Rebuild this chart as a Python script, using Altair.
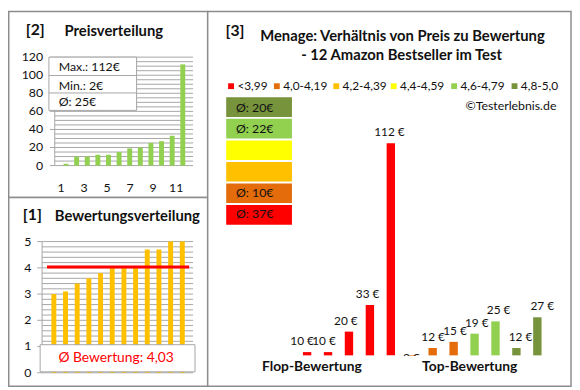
import altair as alt
import pandas as pd

# ---------------- data ----------------
PRICES = [2, 10, 10, 12, 12, 15, 19, 20, 25, 27, 33, 112]               # [2] Preisverteilung
RATINGS = [3.0, 3.1, 3.4, 3.6, 3.8, 4.0, 4.0, 4.0, 4.7, 4.7, 5.0, 5.0]  # [1] Bewertungsverteilung
AVG_RATING = 4.03
PRICE_TICKS = [0, 20, 40, 60, 80, 100, 120]
PRICE_GRID = list(range(0, 121, 5))
PRICE_XTICKS = [1, 3, 5, 7, 9, 11]
RATING_TICKS = [0, 1, 2, 3, 4, 5]
RATING_GRID = [round(i * 0.2, 1) for i in range(26)]

CATEGORIES = ["<3,99", "4,0-4,19", "4,2-4,39", "4,4-4,59", "4,6-4,79", "4,8-5,0"]
CAT_COLORS = ["#FF0000", "#E46C0A", "#FFC000", "#FFFF00", "#92D050", "#77933C"]
P3_PRICES = [10, 10, 20, 33, 112, 2, 12, 15, 19, 25, 12, 27]
P3_CATS = ["<3,99"] * 5 + ["4,0-4,19"] * 3 + ["4,6-4,79"] * 2 + ["4,8-5,0"] * 2
P3_AXIS_MIN = 8.4
GROUP_LABELS = ["Flop-Bewertung", "Top-Bewertung"]

# layout (reference pixels)
LEGEND_X = [226, 273, 334, 393, 455, 517]
LEGEND_Y = 78

FONT = "Lato"
DARK = "#111111"
GRID = "#A6A6A6"
FRAME = "#8C8C8C"


def px(x):
    return x * 571 / 578


def py(y):
    return y * 381 / 388


one = pd.DataFrame({"k": [0]})


def text(t, x, y, size=12, bold=False, color=DARK, align="left", baseline="middle"):
    return alt.Chart(one).mark_text(
        text=t, font=FONT, fontSize=size, fontWeight="bold" if bold else "normal",
        color=color, align=align, baseline=baseline,
    ).encode(x=alt.value(px(x)), y=alt.value(py(y)))


def box(x0, x1, y0, y1, fill="white", stroke=FRAME, sw=1.0):
    return alt.Chart(one).mark_rect(
        fill=fill, stroke=stroke, strokeWidth=sw
    ).encode(x=alt.value(px(x0)), x2=alt.value(px(x1)), y=alt.value(py(y0)), y2=alt.value(py(y1)))


def hline(x0, x1, y, color=GRID, sw=1.0):
    return alt.Chart(one).mark_rule(color=color, strokeWidth=sw).encode(
        x=alt.value(px(x0)), x2=alt.value(px(x1)), y=alt.value(py(y)))


def vline(x, y0, y1, color=GRID, sw=1.0):
    return alt.Chart(one).mark_rule(color=color, strokeWidth=sw).encode(
        x=alt.value(px(x)), y=alt.value(py(y0)), y2=alt.value(py(y1)))


layers = []

# ---------------- panel frames ----------------
layers += [
    box(0.75, 205, 0.75, 193, fill="white", stroke=FRAME, sw=1.5),
    box(0.75, 205, 193, 388, fill="white", stroke=FRAME, sw=1.5),
    box(205, 578, 0.75, 388, fill="white", stroke=FRAME, sw=1.5),
]

# ---------------- [2] Preisverteilung ----------------
S2x = alt.Scale(domain=[1, 12], range=[px(54.5), px(184.5)])
S2y = alt.Scale(domain=[0, 120], range=[py(160), py(48)])
df2 = pd.DataFrame({"i": list(range(1, 13)), "price": PRICES})

layers.append(alt.Chart(pd.DataFrame({"v": PRICE_GRID})).mark_rule(color=GRID, strokeWidth=1).encode(
    y=alt.Y("v:Q", scale=S2y, axis=None), x=alt.value(px(48)), x2=alt.value(px(190))))
layers.append(alt.Chart(pd.DataFrame({"v": PRICE_TICKS})).mark_rule(color=GRID, strokeWidth=1).encode(
    y=alt.Y("v:Q", scale=S2y, axis=None), x=alt.value(px(43)), x2=alt.value(px(48))))
layers.append(vline(48, 48, 160))
layers.append(alt.Chart(pd.DataFrame({"v": PRICE_TICKS})).mark_text(
    font=FONT, fontSize=12.5, color=DARK, align="right", baseline="middle").encode(
    y=alt.Y("v:Q", scale=S2y, axis=None), x=alt.value(px(36)), text="v:Q"))
layers.append(alt.Chart(pd.DataFrame({"t": PRICE_XTICKS})).mark_text(
    font=FONT, fontSize=12.5, color=DARK, align="center", baseline="middle").encode(
    x=alt.X("t:Q", scale=S2x, axis=None), y=alt.value(py(183)), text="t:Q"))
layers.append(alt.Chart(df2).mark_bar(width=5, color="#92D050").encode(
    x=alt.X("i:Q", scale=S2x, axis=None), y=alt.Y("price:Q", scale=S2y, axis=None)))

pmax, pmin, pavg = max(PRICES), min(PRICES), int(sum(PRICES) / len(PRICES) + 0.5)
layers += [
    box(42, 132, 48, 103, fill="white", stroke=GRID, sw=1),
    hline(42, 132, 67, color=GRID),
    hline(42, 132, 85, color=GRID),
    text(f"Max.: {pmax}€", 52, 58.5, size=12.5),
    text(f"Min.: {pmin}€", 52, 77.5, size=12.5),
    text(f"Ø: {pavg}€", 52, 94.5, size=12.5),
    text("[2]", 28, 20.5, size=16, bold=True, align="center"),
    text("Preisverteilung", 58, 21, size=15, bold=True),
]

# ---------------- [1] Bewertungsverteilung ----------------
S1x = alt.Scale(domain=[1, 12], range=[px(42), px(184)])
S1y = alt.Scale(domain=[0, 5], range=[py(374), py(238.5)])
df1 = pd.DataFrame({"i": list(range(1, 13)), "rating": RATINGS})

layers.append(alt.Chart(pd.DataFrame({"v": RATING_GRID})).mark_rule(color=GRID, strokeWidth=1).encode(
    y=alt.Y("v:Q", scale=S1y, axis=None), x=alt.value(px(35)), x2=alt.value(px(190))))
layers.append(alt.Chart(pd.DataFrame({"v": RATING_TICKS})).mark_rule(color=GRID, strokeWidth=1).encode(
    y=alt.Y("v:Q", scale=S1y, axis=None), x=alt.value(px(30)), x2=alt.value(px(35))))
layers.append(vline(35, 238.5, 374))
layers.append(alt.Chart(pd.DataFrame({"v": RATING_TICKS})).mark_text(
    font=FONT, fontSize=12.5, color=DARK, align="right", baseline="middle").encode(
    y=alt.Y("v:Q", scale=S1y, axis=None), x=alt.value(px(24)), text="v:Q"))
layers.append(alt.Chart(df1).mark_bar(width=5, color="#FFC000").encode(
    x=alt.X("i:Q", scale=S1x, axis=None), y=alt.Y("rating:Q", scale=S1y, axis=None)))
layers.append(alt.Chart(pd.DataFrame({"avg": [AVG_RATING]})).mark_rule(color="#FF0000", strokeWidth=3).encode(
    y=alt.Y("avg:Q", scale=S1y, axis=None), x=alt.value(px(40)), x2=alt.value(px(186))))
layers += [
    box(33, 192, 345, 373, fill="white", stroke=GRID, sw=1),
    text("Ø Bewertung: " + f"{AVG_RATING:.2f}".replace(".", ","), 111, 358.5, size=14, color="#FF0000", align="center"),
    text("[1]", 25, 211, size=16, bold=True, align="center"),
    text("Bewertungsverteilung", 48, 212, size=15, bold=True),
]

# ---------------- [3] Preis zu Bewertung ----------------
S3x = alt.Scale(domain=[0, 11], range=[px(302), px(548.5)])
S3y = alt.Scale(domain=[P3_AXIS_MIN, 112], range=[py(356), py(137)])
df3 = pd.DataFrame({"slot": list(range(12)), "price": P3_PRICES, "cat": P3_CATS})
color3 = alt.Color("cat:N", scale=alt.Scale(domain=CATEGORIES, range=CAT_COLORS), legend=None)

layers.append(alt.Chart(df3).transform_calculate(base=str(P3_AXIS_MIN)).mark_bar(width=8.5).encode(
    x=alt.X("slot:Q", scale=S3x, axis=None),
    y=alt.Y("price:Q", scale=S3y, axis=None), y2="base:Q", color=color3))
layers.append(alt.Chart(df3).transform_calculate(lbl="datum.price + ' €'").mark_text(
    font=FONT, fontSize=12, color=DARK, align="center", baseline="bottom", dy=-4).encode(
    x=alt.X("slot:Q", scale=S3x, axis=None), y=alt.Y("price:Q", scale=S3y, axis=None), text="lbl:N"))
# the plot area of the right chart ends at its baseline
layers.append(box(396, 426, 356.6, 374, fill="white", stroke="white", sw=0))

# legend row
for cat, col, lx in zip(CATEGORIES, CAT_COLORS, LEGEND_X):
    layers.append(box(lx, lx + 6, LEGEND_Y - 3, LEGEND_Y + 3, fill=col, stroke=col, sw=0))
    layers.append(text(cat, lx + 9.5, LEGEND_Y, size=12))

BOX_ORDER = CATEGORIES[::-1]
avg3 = df3.groupby("cat")["price"].mean()
box_labels = [f"Ø: {int(avg3[c] + 0.5)}€" if c in avg3.index else "" for c in BOX_ORDER]
dfb = pd.DataFrame({"cat": BOX_ORDER, "lbl": box_labels})
Sbox = alt.Scale(domain=BOX_ORDER, range=[py(89.5), py(221)], paddingInner=0.09, paddingOuter=0)
layers.append(alt.Chart(dfb).mark_rect().encode(
    y=alt.Y("cat:N", scale=Sbox, axis=None), x=alt.value(px(224)), x2=alt.value(px(291.5)),
    fill=alt.Fill("cat:N", scale=alt.Scale(domain=CATEGORIES, range=CAT_COLORS), legend=None)))
layers.append(alt.Chart(dfb).mark_text(font=FONT, fontSize=12.5, color=DARK, align="left", baseline="middle").encode(
    y=alt.Y("cat:N", scale=Sbox, axis=None), x=alt.value(px(234)), text="lbl:N"))

layers += [
    text("[3]", 233, 21, size=16, bold=True, align="center"),
    text("Menage: Verhältnis von Preis zu Bewertung", 405, 26, size=15, bold=True, align="center"),
    text("- 12 Amazon Bestseller im Test", 404, 46, size=15, bold=True, align="center"),
    text("©Testerlebnis.de", 563, 98, size=12.5, align="right"),
    text(GROUP_LABELS[0], 312, 368, size=14, bold=True, align="center"),
    text(GROUP_LABELS[1], 474, 368, size=14, bold=True, align="center"),
]

chart = alt.layer(*layers).resolve_scale(
    x="independent", y="independent"
).properties(
    width=572, height=382, autosize=alt.AutoSizeParams(type="none"), padding=0
).configure(background="white").configure_view(strokeWidth=0)

chart.save("out.html", embed_options={"renderer": "svg", "actions": False})
